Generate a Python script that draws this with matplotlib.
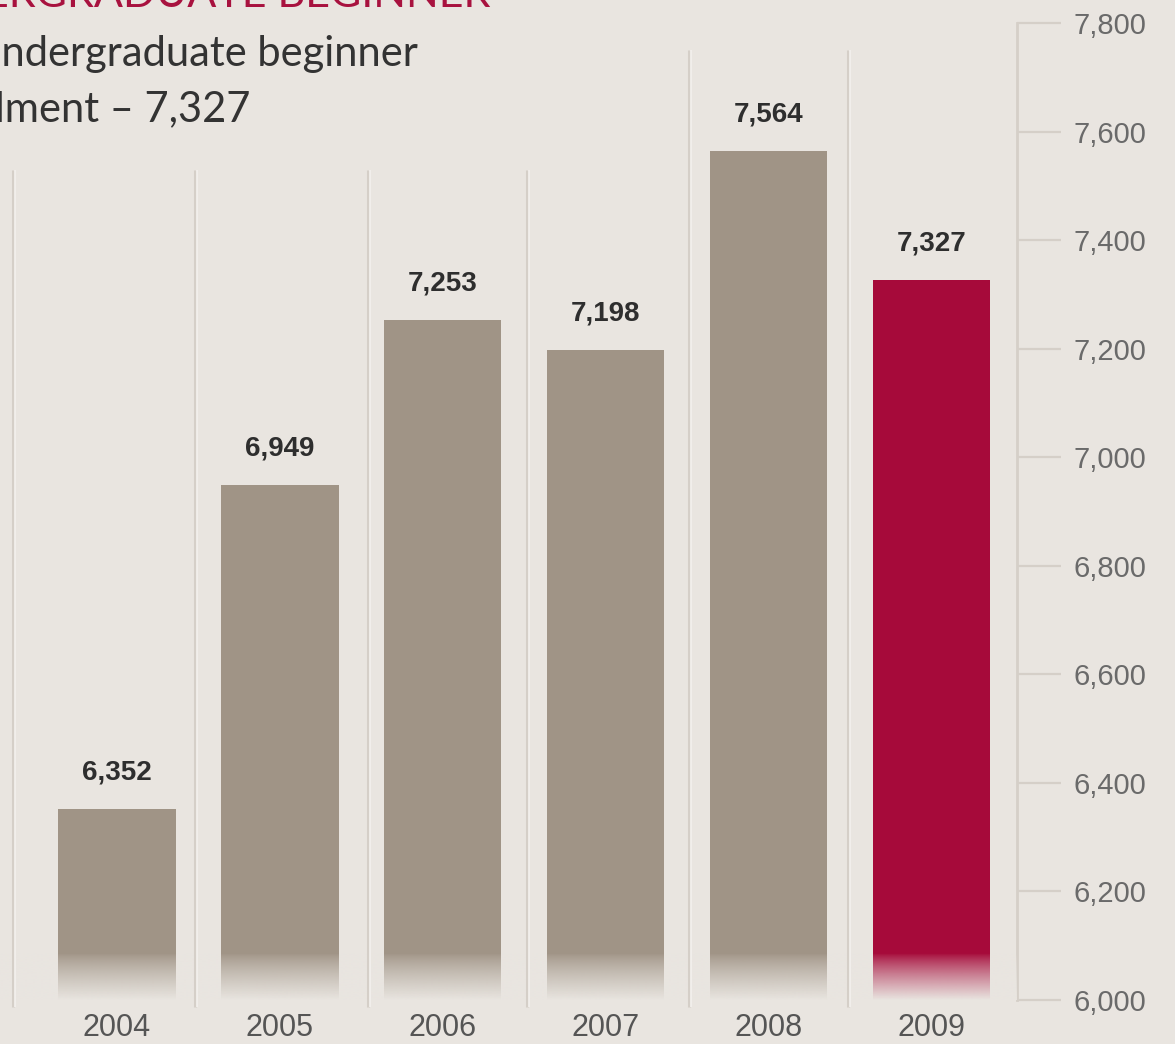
import numpy as np
import matplotlib
matplotlib.use("Agg")
from matplotlib import pyplot as plt
from matplotlib.colors import to_rgb

years = ["2004", "2005", "2006", "2007", "2008", "2009"]
enrolment = [6352, 6949, 7253, 7198, 7564, 7327]
axis_ticks = [6000, 6200, 6400, 6600, 6800, 7000, 7200, 7400, 7600, 7800]

BG = "#E9E5E0"
GREY_BAR = "#A09486"
RED_BAR = "#A60A3A"
RULE = "#D5CFC8"

W, H, DPI = 1175, 1044, 100
fig = plt.figure(figsize=(W / DPI, H / DPI), dpi=DPI, facecolor=BG)

# axes spans from left edge to the vertical scale line, 6000 -> 7800
ax = fig.add_axes([0, (H - 1000) / H, 1017 / W, (1000 - 23) / H])
ax.set_facecolor(BG)

x = np.arange(len(years))
colors = [GREY_BAR] * (len(years) - 1) + [RED_BAR]
bars = ax.bar(x, np.array(enrolment) - 6000, bottom=6000, width=0.72,
              color=colors, zorder=2, clip_on=False)

# fade the bottom of the bars into the background
fade_top = 6085
grad = np.zeros((64, 2, 4))
grad[..., :3] = to_rgb(BG)
grad[..., 3] = np.linspace(0, 1, 64)[:, None] ** 0.8
ax.imshow(grad, extent=[-0.718, 5.525, 6000, fade_top], origin="upper",
          aspect="auto", zorder=3, interpolation="bilinear")
ax.set_xlim(-0.718, 5.525)
ax.set_ylim(6000, 7800)

# value labels
for xi, v in zip(x, enrolment):
    ax.annotate(f"{v:,}", (xi, v), xytext=(0, 26), textcoords="offset points",
                ha="center", va="center", fontsize=20, fontweight="bold",
                color="#2E2E2E", family="Liberation Sans")

# vertical separators between the years
sep_pos = [-0.64, 0.48, 1.54, 2.52, 3.51, 4.49]
sep_top = [7529, 7529, 7529, 7529, 7750, 7750]
for sx, st in zip(sep_pos, sep_top):
    ax.plot([sx, sx], [5987, st], color=RULE, lw=2.2, zorder=4,
            clip_on=False, solid_capstyle="butt")
    ax.plot([sx + 0.012, sx + 0.012], [5987, st], color="#F4F1EE", lw=1.2,
            zorder=4, clip_on=False, solid_capstyle="butt")

# year labels
ax.set_xticks(x)
ax.set_xticklabels(years, fontsize=22, color="#555555", family="Liberation Sans")
ax.tick_params(axis="x", length=0, pad=9)

# scale on the right
ax.yaxis.tick_right()
ax.set_yticks(axis_ticks)
ax.set_yticklabels([f"{t:,}" for t in axis_ticks], fontsize=21,
                   color="#6A6A6A", family="Liberation Sans")
ax.tick_params(axis="y", direction="out", length=32, width=1.6,
               color=RULE, pad=9)
for side in ["top", "left", "bottom"]:
    ax.spines[side].set_visible(False)
ax.spines["right"].set_color(RULE)
ax.spines["right"].set_linewidth(2)

# heading (cut off on the left in the original)
fig.text(490 / W, 1 - 7 / H, "UNDERGRADUATE BEGINNER", ha="right",
         va="baseline", fontsize=31, color="#A8123F", family="Lato")
fig.text(418 / W, 1 - 66 / H, "Total undergraduate beginner", ha="right",
         va="baseline", fontsize=30, color="#333333", family="Lato")
fig.text(250 / W, 1 - 121 / H, "enrolment \u2013 7,327", ha="right",
         va="baseline", fontsize=30, color="#333333", family="Lato")

fig.savefig("out.png", dpi=DPI, facecolor=BG)
